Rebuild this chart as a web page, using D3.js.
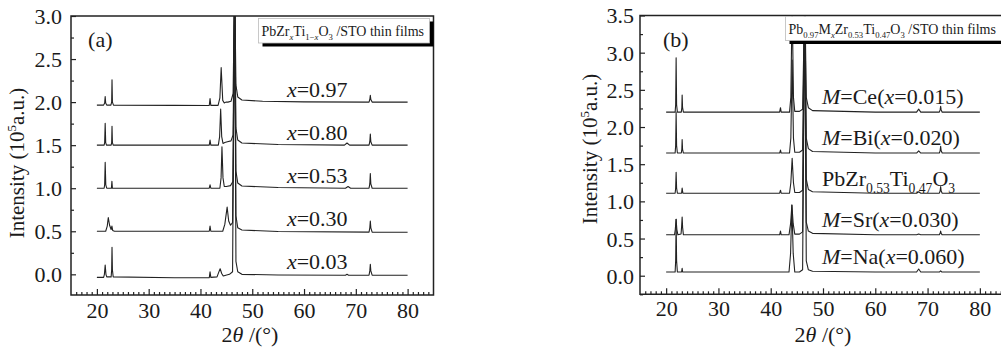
<!DOCTYPE html>
<html>
<head>
<meta charset="utf-8">
<title>XRD patterns of PZT / STO thin films</title>
<script src="https://cdn.jsdelivr.net/npm/d3@7"></script>
<style>
  body { margin: 0; background: #fff; }
  .frame { fill: none; stroke: #222; stroke-width: 1.5; }
  .curve { fill: none; stroke: #222; stroke-width: 1.1; stroke-linejoin: round; }
  .tick line { stroke: #222; stroke-width: 1.2; }
  .domain { display: none; }
</style>
</head>
<body>
<script>
var FONT = "Liberation Serif";

// ---- tick labels ----
var xTicks = [20, 30, 40, 50, 60, 70, 80];
var yTicksA = [0, 0.5, 1.0, 1.5, 2.0, 2.5, 3.0];
var yTicksB = [0, 0.5, 1.0, 1.5, 2.0, 2.5, 3.0, 3.5];

// ---- panel (a): PbZr(x)Ti(1-x)O3 ----
var labelsA = ["*x*=0.97", "*x*=0.80", "*x*=0.53", "*x*=0.30", "*x*=0.03"];
var offsetsA = [2.0, 1.5, 1.0, 0.5, 0.0];

var a097 = [[20,1.965],[21.3,1.965],[21.5,1.99],[21.6,2.065],[21.7,1.99],[21.9,1.965],[22.7,1.965],[22.85,2.0],[22.92,2.26],[23.0,2.0],[23.2,1.965],
  [35,1.962],[41.7,1.96],[41.85,2.04],[42.0,1.962],[43.4,1.962],[43.75,2.05],[44.0,2.40],[44.3,2.02],[44.6,1.99],[44.9,2.0],[45.3,2.0],[45.9,2.01],
  [46.3,2.1],[46.6,3.4],[46.85,2.2],[47.2,2.06],[48,2.025],[52,2.01],[60,2.003],[72.55,2.0],[72.7,2.03],[72.8,2.08],[72.9,2.03],[73.15,2.0],[80,2.0]];
var a080 = [[20,1.5],[21.4,1.5],[21.5,1.53],[21.6,1.755],[21.7,1.53],[21.85,1.5],[22.75,1.5],[22.85,1.53],[22.92,1.72],[23.0,1.53],[23.15,1.5],
  [41.7,1.5],[41.85,1.56],[42.0,1.5],[43.45,1.5],[43.7,1.6],[43.9,1.92],[44.1,1.6],[44.35,1.52],[44.7,1.53],[45.2,1.54],[45.9,1.55],
  [46.3,1.62],[46.6,3.4],[46.85,1.7],[47.2,1.56],[48,1.525],[55,1.508],[67.8,1.5],[68.3,1.525],[68.8,1.5],[72.55,1.5],[72.7,1.54],[72.8,1.63],[72.9,1.54],[73.15,1.5],[80,1.5]];
var a053 = [[20,1.0],[21.4,1.0],[21.5,1.04],[21.6,1.30],[21.72,1.04],[21.9,1.0],[22.8,1.0],[22.9,1.08],[23.0,1.0],
  [41.7,1.0],[41.85,1.04],[42.0,1.0],[43.75,1.0],[43.98,1.12],[44.15,1.48],[44.35,1.12],[44.6,1.02],[45.0,1.02],[45.8,1.03],
  [46.3,1.08],[46.6,3.4],[46.85,1.2],[47.2,1.06],[48,1.025],[55,1.008],[68.0,1.0],[68.5,1.02],[69.0,1.0],[72.55,1.0],[72.7,1.05],[72.8,1.17],[72.9,1.05],[73.15,1.0],[80,1.0]];
var a030 = [[20,0.5],[21.7,0.5],[22.0,0.56],[22.2,0.66],[22.45,0.57],[22.75,0.52],[22.9,0.56],[23.05,0.51],[23.4,0.5],
  [41.7,0.5],[41.85,0.56],[42.0,0.5],[44.3,0.5],[44.7,0.58],[45.15,0.78],[45.45,0.62],[45.8,0.57],[46.2,0.6],
  [46.6,3.4],[46.85,0.68],[47.2,0.54],[48,0.515],[55,0.497],[72.55,0.49],[72.7,0.54],[72.8,0.62],[72.9,0.54],[73.15,0.49],[80,0.488]];
var a003 = [[20,-0.035],[21.3,-0.035],[21.45,0.0],[21.6,0.108],[21.75,0.0],[21.9,-0.03],[22.75,-0.03],[22.85,0.05],[22.92,0.314],[23.0,0.05],[23.15,-0.03],
  [35,-0.04],[41.7,-0.04],[41.85,0.03],[42.0,-0.035],[43.2,-0.03],[43.5,0.02],[43.8,0.065],[44.1,0.01],[44.4,-0.02],[44.9,-0.01],[45.6,0.0],
  [46.2,0.03],[46.6,3.4],[46.85,0.15],[47.2,0.03],[48,0.0],[55,-0.008],[68.0,-0.01],[68.3,0.0],[68.6,-0.01],[72.55,-0.01],[72.7,0.04],[72.8,0.116],[72.9,0.04],[73.15,-0.01],[80,-0.01]];

// ---- panel (b): Pb0.97MxZr0.53Ti0.47O3 ----
var labelsB = ["*M*=Ce(*x*=0.015)", "*M*=Bi(*x*=0.020)", "PbZr_{0.53}Ti_{0.47}O_{3}", "*M*=Sr(*x*=0.030)", "*M*=Na(*x*=0.060)"];
var offsetsB = [2.2, 1.65, 1.1, 0.55, 0.05];

var bCe = [[20,2.2],[21.72,2.2],[21.82,2.3],[21.91,2.93],[22.0,2.3],[22.15,2.2],[22.9,2.2],[23.0,2.26],[23.06,2.43],[23.14,2.26],[23.3,2.2],
  [41.7,2.2],[41.87,2.26],[42.0,2.2],[43.6,2.2],[43.85,2.4],[44.1,3.7],[44.35,2.4],[44.6,2.21],[45.5,2.21],[46.1,2.24],
  [46.52,3.8],[46.8,2.4],[47.2,2.26],[48,2.22],[60,2.2],[67.9,2.2],[68.3,2.24],[68.7,2.2],[72.25,2.2],[72.4,2.23],[72.5,2.28],[72.6,2.23],[72.8,2.2],[80,2.2]];
var bBi = [[20,1.65],[21.72,1.65],[21.82,1.75],[21.91,2.2],[22.0,1.75],[22.15,1.65],[22.9,1.65],[23.0,1.7],[23.06,1.83],[23.14,1.7],[23.3,1.65],
  [41.7,1.65],[41.87,1.69],[42.0,1.65],[43.6,1.65],[43.85,1.85],[44.1,2.9],[44.35,1.85],[44.6,1.66],[45.5,1.66],[46.1,1.69],
  [46.52,3.8],[46.8,1.85],[47.2,1.71],[48,1.67],[60,1.65],[67.9,1.65],[68.3,1.68],[68.7,1.65],[72.25,1.65],[72.4,1.68],[72.5,1.74],[72.6,1.68],[72.8,1.65],[80,1.65]];
var bPZT = [[20,1.11],[21.72,1.11],[21.82,1.18],[21.91,1.39],[22.0,1.18],[22.15,1.11],[22.95,1.11],[23.06,1.18],[23.2,1.11],
  [41.7,1.11],[41.87,1.15],[42.0,1.11],[43.6,1.11],[43.85,1.25],[44.1,1.58],[44.35,1.25],[44.6,1.12],[45.5,1.12],[46.1,1.15],
  [46.52,3.8],[46.8,1.3],[47.2,1.16],[48,1.13],[60,1.11],[67.9,1.11],[68.3,1.13],[68.7,1.11],[72.25,1.11],[72.4,1.14],[72.5,1.2],[72.6,1.14],[72.8,1.11],[80,1.11]];
var bSr = [[20,0.55],[21.6,0.55],[21.75,0.62],[21.9,0.76],[22.05,0.62],[22.25,0.55],[22.85,0.56],[22.95,0.65],[23.06,0.79],[23.15,0.65],[23.3,0.55],
  [41.7,0.55],[41.87,0.6],[42.0,0.55],[43.5,0.55],[43.8,0.7],[44.05,0.95],[44.3,0.7],[44.6,0.56],[45.5,0.56],[46.1,0.59],
  [46.52,3.8],[46.8,0.72],[47.2,0.6],[48,0.57],[60,0.55],[67.9,0.55],[68.3,0.56],[68.7,0.55],[72.25,0.55],[72.4,0.57],[72.5,0.6],[72.6,0.57],[72.8,0.55],[80,0.55]];
var bNa = [[20,0.05],[21.72,0.05],[21.82,0.2],[21.91,0.76],[22.0,0.2],[22.15,0.05],[22.95,0.05],[23.06,0.1],[23.15,0.05],
  [43.5,0.05],[43.8,0.3],[44.05,0.95],[44.3,0.3],[44.6,0.05],[45.5,0.05],[46.1,0.08],
  [46.52,3.8],[46.8,0.2],[47.2,0.08],[48,0.06],[60,0.05],[67.9,0.05],[68.3,0.09],[68.7,0.05],[72.3,0.05],[72.5,0.065],[72.7,0.05],[80,0.05]];

var svg = d3.select("body").append("svg")
    .attr("width", 1001)
    .attr("height", 348)
    .attr("font-family", FONT);

// tiny markup: *..* italic, _{..} subscript, ^{..} superscript
function rich(txt, str, size) {
  var shift = 0;
  txt.attr("font-family", FONT).attr("font-size", size).attr("fill", "#1a1a1a");
  str.split(/(_\{[^}]*\}|\^\{[^}]*\})/).filter(function(s) { return s !== ""; }).forEach(function(p) {
    var kind = "n", body = p;
    if (p.indexOf("_{") === 0) { kind = "sub"; body = p.slice(2, -1); }
    else if (p.indexOf("^{") === 0) { kind = "sup"; body = p.slice(2, -1); }
    var target = kind === "sub" ? size * 0.3 : (kind === "sup" ? -size * 0.38 : 0);
    var fs = kind === "n" ? size : size * 0.62;
    body.split(/(\*[^*]+\*)/).filter(function(s) { return s !== ""; }).forEach(function(q) {
      var it = q.charAt(0) === "*";
      var t = txt.append("tspan")
          .text(it ? q.slice(1, -1) : q)
          .attr("dy", target - shift)
          .attr("font-family", FONT)
          .attr("font-size", fs);
      if (it) t.attr("font-style", "italic");
      shift = target;
    });
  });
}

function drawPanel(p) {
  var x = d3.scaleLinear().domain([15, 85]).range([p.left, p.right]);
  var y = d3.scaleLinear().domain(p.ydom).range([p.bottom, p.top]);
  var g = svg.append("g");

  var clipId = "clip" + p.name;
  svg.append("clipPath").attr("id", clipId)
    .append("rect").attr("x", p.left).attr("y", p.top)
    .attr("width", p.right - p.left).attr("height", p.bottom - p.top);

  var line = d3.line().x(function(d) { return x(d[0]); }).y(function(d) { return y(d[1]); });
  g.append("g").attr("clip-path", "url(#" + clipId + ")")
    .selectAll("path").data(p.curves).enter().append("path")
    .attr("class", "curve")
    .attr("d", line);

  // minor ticks
  var xMinor = d3.range(16, 85, 1).filter(function(v) { return v % 10 !== 0; });
  g.append("g").attr("transform", "translate(0," + p.bottom + ")")
    .call(d3.axisBottom(x).tickValues(xMinor).tickSizeInner(-3).tickSizeOuter(0).tickFormat(""));
  var yMinor = d3.range(-0.25, p.ydom[1], 0.25).map(function(v) { return +v.toFixed(2); })
    .filter(function(v) { return v >= p.ydom[0] && Math.abs(v * 2 - Math.round(v * 2)) > 0.01; });
  g.append("g").attr("transform", "translate(" + p.left + ",0)")
    .call(d3.axisLeft(y).tickValues(yMinor).tickSizeInner(-3).tickSizeOuter(0).tickFormat(""));

  // major ticks
  var xa = g.append("g").attr("transform", "translate(0," + p.bottom + ")")
    .call(d3.axisBottom(x).tickValues(xTicks).tickSizeInner(-6).tickSizeOuter(0));
  var ya = g.append("g").attr("transform", "translate(" + p.left + ",0)")
    .call(d3.axisLeft(y).tickValues(p.yTicks).tickSizeInner(-5).tickSizeOuter(0).tickFormat(d3.format(".1f")));
  g.selectAll("g").attr("font-family", FONT).attr("font-size", 22);
  xa.selectAll("text").attr("y", p.xLabOff).attr("dy", null);
  ya.selectAll("text").attr("x", -p.yLabGap).attr("dy", "0.34em");
  g.selectAll(".tick text")
    .attr("font-family", FONT).attr("font-size", 22).attr("fill", "#1a1a1a");

  // frame
  g.append("path").attr("class", "frame")
    .attr("d", "M" + p.left + "," + p.top + "H" + p.right + "V" + p.bottom + "H" + p.left + "Z");

  // curve labels
  p.labels.forEach(function(s, i) {
    var t = g.append("text")
      .attr("x", x(p.labX))
      .attr("y", y(p.offsets[i]) - p.labLift);
    rich(t, s, 22);
  });

  // panel letter
  var tag = g.append("text").attr("x", x(p.tagX)).attr("y", 47);
  rich(tag, p.tag, 22);

  // axis titles
  var yt = g.append("text")
    .attr("transform", "translate(" + p.yTitleX + "," + p.yTitleY + ") rotate(-90)")
    .attr("text-anchor", "middle");
  rich(yt, "Intensity (10^{5}a.u.)", 21);
  var xt = g.append("text")
    .attr("x", p.xTitleX).attr("y", 342)
    .attr("text-anchor", "middle");
  rich(xt, "2*θ* /(°)", 22);

  // legend box with black drop shadow
  var L = p.legend;
  g.append("rect").attr("x", L.x + 4).attr("y", L.y + 3).attr("width", L.w).attr("height", L.h + 0.5).attr("fill", "#000");
  g.append("rect").attr("x", L.x).attr("y", L.y).attr("width", L.w).attr("height", L.h)
    .attr("fill", "#fff").attr("stroke", "#bbb").attr("stroke-width", 0.8);
  var lt = g.append("text").attr("x", L.x + 3).attr("y", L.y + 17);
  rich(lt, L.text, 14);
}

drawPanel({
  name: "A", left: 71, right: 433.5, top: 16, bottom: 295, ydom: [-0.24, 3.0],
  yTicks: yTicksA, curves: [a097, a080, a053, a030, a003],
  labels: labelsA, offsets: offsetsA, labX: 56.7, labLift: 5,
  xLabOff: 23, yLabGap: 9, tag: "(a)", tagX: 18.3,
  yTitleX: 24, yTitleY: 163, xTitleX: 250,
  legend: { x: 258.5, y: 18.5, w: 171, h: 24.5, text: "PbZr_{*x*}Ti_{1−*x*}O_{3} /STO thin films" }
});

drawPanel({
  name: "B", left: 640, right: 1006, top: 15.5, bottom: 294.3, ydom: [-0.25, 3.5],
  yTicks: yTicksB, curves: [bCe, bBi, bPZT, bSr, bNa],
  labels: labelsB, offsets: offsetsB, labX: 49.8, labLift: 8,
  xLabOff: 22, yLabGap: 6, tag: "(b)", tagX: 19.4,
  yTitleX: 597, yTitleY: 149, xTitleX: 823,
  legend: { x: 785.5, y: 16.5, w: 230, h: 24, text: "Pb_{0.97}M_{*x*}Zr_{0.53}Ti_{0.47}O_{3} /STO thin films" }
});
</script>
</body>
</html>
